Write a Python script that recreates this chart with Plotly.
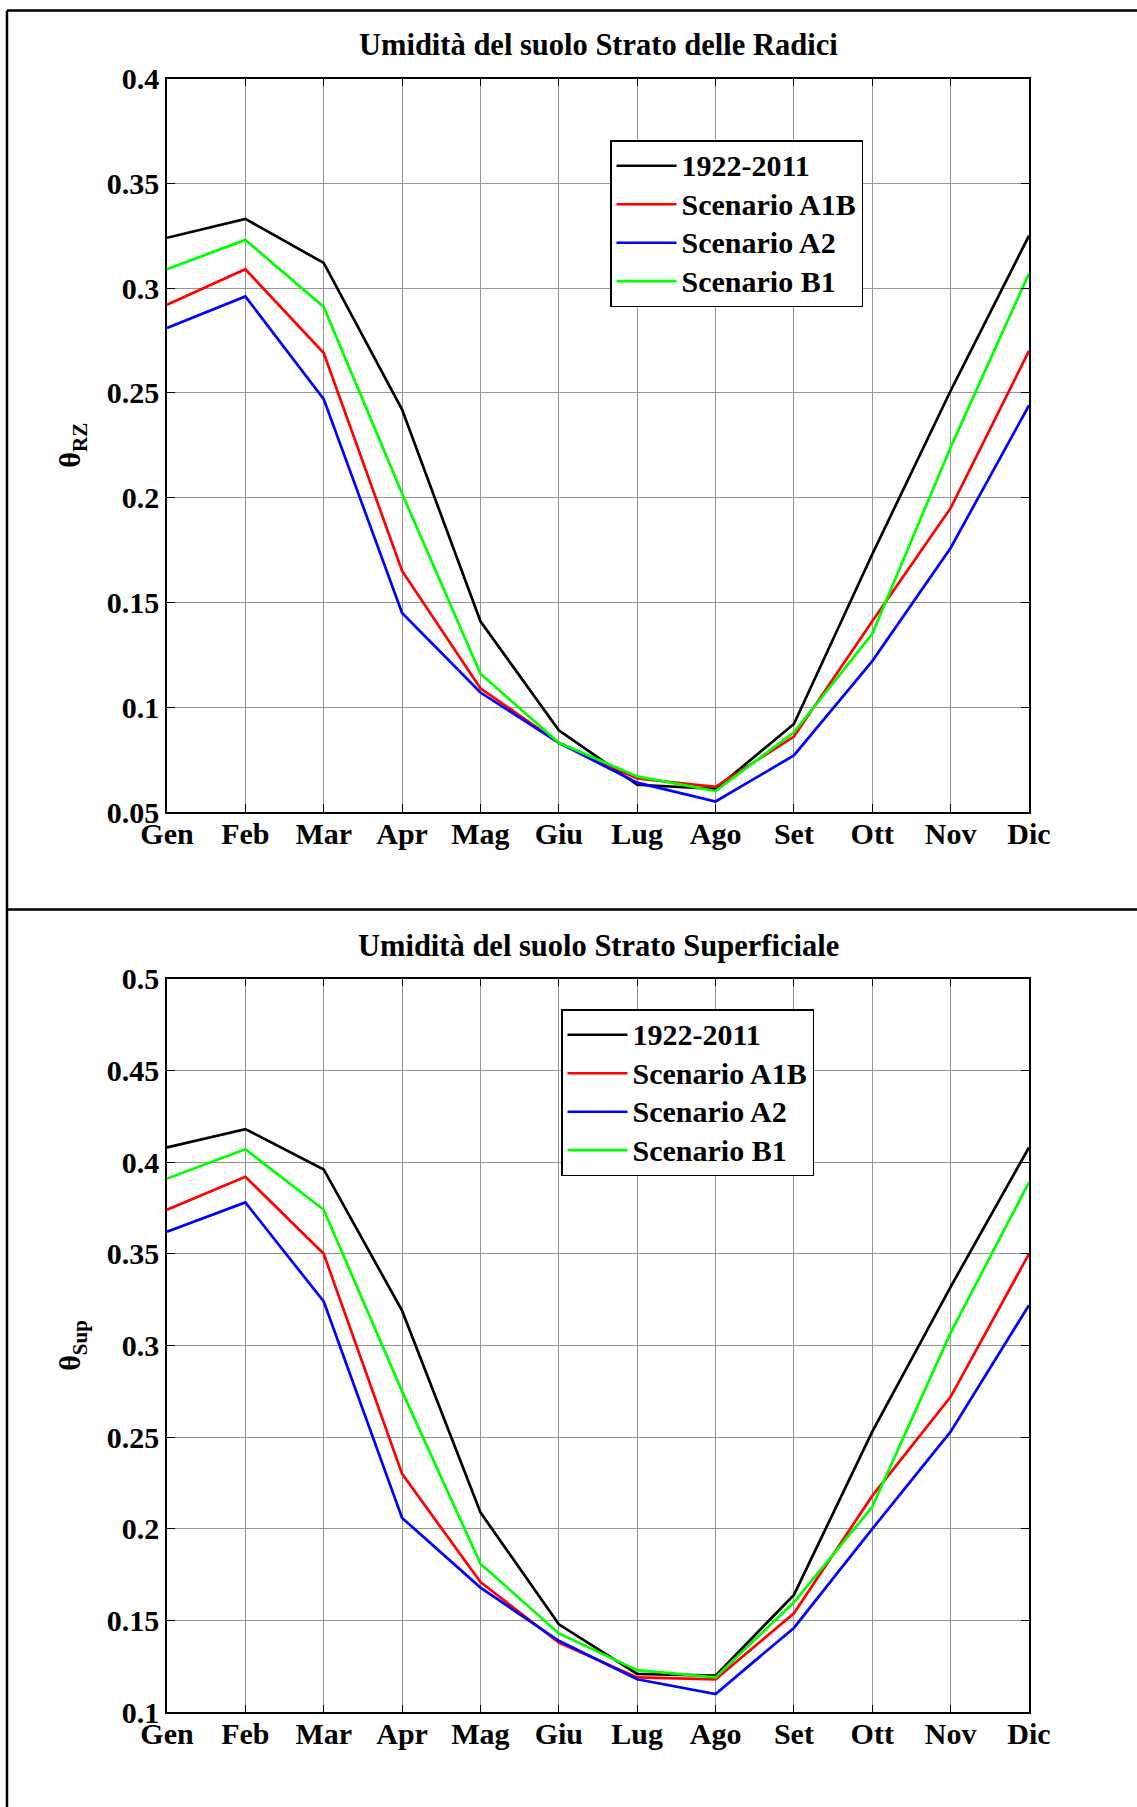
import plotly.graph_objects as go

# Months on the x axis
months = ["Gen", "Feb", "Mar", "Apr", "Mag", "Giu", "Lug", "Ago", "Set", "Ott", "Nov", "Dic"]

series_names = ["1922-2011", "Scenario A1B", "Scenario A2", "Scenario B1"]
series_colors = ["#000000", "#ff0000", "#0000ff", "#00ff00"]

# Root-zone soil moisture (theta_RZ)
rz_1922_2011 = [0.324, 0.333, 0.312, 0.242, 0.141, 0.089, 0.063, 0.061, 0.092, 0.173, 0.251, 0.325]
rz_a1b = [0.292, 0.309, 0.269, 0.165, 0.109, 0.083, 0.066, 0.062, 0.086, 0.141, 0.195, 0.270]
rz_a2 = [0.281, 0.296, 0.247, 0.145, 0.107, 0.083, 0.064, 0.055, 0.077, 0.122, 0.176, 0.244]
rz_b1 = [0.309, 0.323, 0.291, 0.202, 0.116, 0.083, 0.067, 0.060, 0.088, 0.135, 0.224, 0.307]

# Surface-layer soil moisture (theta_Sup)
sup_1922_2011 = [0.408, 0.418, 0.396, 0.319, 0.209, 0.148, 0.121, 0.120, 0.164, 0.253, 0.332, 0.408]
sup_a1b = [0.374, 0.392, 0.350, 0.230, 0.171, 0.138, 0.119, 0.118, 0.154, 0.218, 0.272, 0.350]
sup_a2 = [0.362, 0.378, 0.324, 0.206, 0.168, 0.139, 0.118, 0.110, 0.146, 0.200, 0.253, 0.322]
sup_b1 = [0.391, 0.407, 0.374, 0.275, 0.181, 0.143, 0.123, 0.119, 0.160, 0.212, 0.307, 0.389]

# Tick labels
rz_ticks = [0.05, 0.1, 0.15, 0.2, 0.25, 0.3, 0.35, 0.4]
rz_ticktext = ["0.05", "0.1", "0.15", "0.2", "0.25", "0.3", "0.35", "0.4"]
sup_ticks = [0.1, 0.15, 0.2, 0.25, 0.3, 0.35, 0.4, 0.45, 0.5]
sup_ticktext = ["0.1", "0.15", "0.2", "0.25", "0.3", "0.35", "0.4", "0.45", "0.5"]

title_top = "Umidità del suolo Strato delle Radici"
title_bottom = "Umidità del suolo Strato Superficiale"

W, H = 1137, 1807
FONT = "Liberation Serif"


def px_x(p):
    return p / W


def px_y(p):
    return 1 - p / H


def legend_label(name):
    # legend rows are spaced by the legend font size; the label itself is a bit larger
    return '<span style="font-size:30px">' + name + "</span>"


fig = go.Figure()

top_series = [rz_1922_2011, rz_a1b, rz_a2, rz_b1]
bottom_series = [sup_1922_2011, sup_a1b, sup_a2, sup_b1]

for name, color, values in zip(series_names, series_colors, top_series):
    fig.add_trace(go.Scatter(
        x=months, y=values, mode="lines", name=legend_label(name),
        line=dict(color=color, width=2.7),
        xaxis="x", yaxis="y", legend="legend",
    ))

for name, color, values in zip(series_names, series_colors, bottom_series):
    fig.add_trace(go.Scatter(
        x=months, y=values, mode="lines", name=legend_label(name),
        line=dict(color=color, width=2.7),
        xaxis="x2", yaxis="y2", legend="legend2",
    ))

tick_font = dict(family=FONT, size=30, color="black", weight="bold")

axis_common = dict(
    showline=True, linecolor="black", linewidth=1.5, mirror="ticks",
    ticks="inside", ticklen=8, tickwidth=1, tickcolor="black",
    showgrid=True, gridcolor="#959595", gridwidth=1,
    zeroline=False, tickfont=tick_font, automargin=False,
)

x_dom = [px_x(167), px_x(1029)]

legend_common = dict(
    xanchor="left", yanchor="top",
    bgcolor="white", bordercolor="black", borderwidth=1.5,
    font=dict(family=FONT, size=27.3, color="black", weight="bold"),
    tracegroupgap=0, itemwidth=60,
)

fig.update_layout(
    width=W, height=H,
    margin=dict(l=0, r=0, t=0, b=0, pad=0, autoexpand=False),
    paper_bgcolor="white", plot_bgcolor="white",
    xaxis=dict(axis_common, domain=x_dom, anchor="y", type="category",
               range=[0, 11], ticklabelstandoff=-6),
    yaxis=dict(axis_common, domain=[px_y(812), px_y(78.5)], anchor="x",
               range=[0.05, 0.4], tickvals=rz_ticks, ticktext=rz_ticktext,
               title=dict(text="θ<sub>RZ</sub>",
                          font=dict(family=FONT, size=30, color="black", weight="bold"),
                          standoff=17)),
    xaxis2=dict(axis_common, domain=x_dom, anchor="y2", type="category",
                range=[0, 11], ticklabelstandoff=-6),
    yaxis2=dict(axis_common, domain=[px_y(1712.3), px_y(978.7)], anchor="x2",
                range=[0.1, 0.5], tickvals=sup_ticks, ticktext=sup_ticktext,
                title=dict(text="θ<sub>Sup</sub>",
                           font=dict(family=FONT, size=30, color="black", weight="bold"),
                           standoff=17)),
    legend=dict(legend_common, x=px_x(610), y=px_y(140)),
    legend2=dict(legend_common, x=px_x(561), y=px_y(1009)),
    showlegend=True,
)

# Panel titles
for text, ypix in [(title_top, 45), (title_bottom, 946)]:
    fig.add_annotation(
        text=text, x=px_x(598), y=px_y(ypix), xref="paper", yref="paper",
        xanchor="center", yanchor="middle", showarrow=False,
        font=dict(family=FONT, size=30.5, color="black", weight="bold"),
    )

# Outer frame: top edge, left edge and panel divider
frame = dict(color="black", width=2.5)
fig.add_shape(type="line", xref="paper", yref="paper",
              x0=px_x(7), x1=1, y0=px_y(10.5), y1=px_y(10.5), line=frame)
fig.add_shape(type="line", xref="paper", yref="paper",
              x0=px_x(7), x1=px_x(7), y0=0, y1=px_y(10.5), line=frame)
fig.add_shape(type="line", xref="paper", yref="paper",
              x0=px_x(7), x1=1, y0=px_y(909.5), y1=px_y(909.5), line=frame)

fig.write_html("out.html")
